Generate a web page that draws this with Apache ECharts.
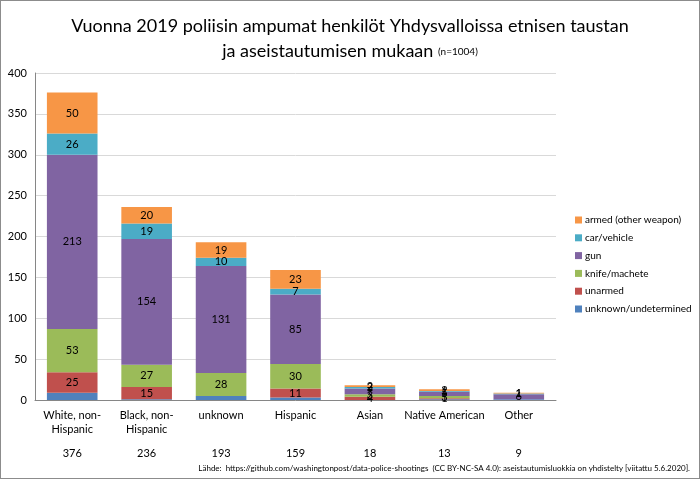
<!DOCTYPE html>
<html>
<head>
<meta charset="utf-8">
<script src="https://cdn.jsdelivr.net/npm/echarts@6/dist/echarts.min.js"></script>
<style>
  html, body { margin: 0; padding: 0; background: #fff; }
  #chart { width: 698px; height: 477px; border: 1px solid #8c8c8c; }
</style>
</head>
<body>
<div id="chart"></div>
<script>
// kategoriat (etninen tausta)
var categories = ['White, non-\nHispanic', 'Black, non-\nHispanic', 'unknown', 'Hispanic', 'Asian', 'Native American', 'Other'];
// aseistautuminen, alhaalta ylös
var unknownUndetermined = [9, 1, 5, 3, 0, 1, 1];
var unarmed = [25, 15, 0, 11, 4, 1, 0];
var knife = [53, 27, 28, 30, 3, 3, 0];
var gun = [213, 154, 131, 85, 7, 5, 6];
var carVehicle = [26, 19, 10, 7, 2, 1, 1];
var armedOther = [50, 20, 19, 23, 2, 2, 1];
var yTicks = [0, 50, 100, 150, 200, 250, 300, 350, 400];

var totals = categories.map(function (c, i) {
  return unknownUndetermined[i] + unarmed[i] + knife[i] + gun[i] + carVehicle[i] + armedOther[i];
});

var font = 'Lato';
function serie(name, data, color, showLabel) {
  return {
    name: name,
    type: 'bar',
    stack: 'total',
    barWidth: '68%',
    data: data,
    itemStyle: { color: color },
    label: {
      show: showLabel,
      position: 'inside',
      color: '#000',
      fontFamily: font,
      fontSize: 11,
      formatter: function (p) { return p.value > 0 ? p.value : ''; }
    }
  };
}

var myChart = echarts.init(document.getElementById('chart'));
var option = {
  animation: false,
  textStyle: { fontFamily: font },
  title: {
    text: 'Vuonna 2019 poliisin ampumat henkilöt Yhdysvalloissa etnisen taustan\nja aseistautumisen mukaan {s|(n=1004)}',
    left: 'center',
    top: 8,
    textStyle: {
      fontFamily: font, fontSize: 18, fontWeight: 'normal', color: '#000', lineHeight: 25,
      rich: { s: { fontSize: 10, fontFamily: font, color: '#000' } }
    }
  },
  legend: {
    orient: 'vertical',
    left: 569,
    top: 209,
    itemWidth: 7,
    itemHeight: 7,
    itemGap: 7.8,
    icon: 'rect',
    textStyle: { fontFamily: font, fontSize: 10, color: '#000', padding: [0, 0, 0, -2] },
    data: ['armed (other weapon)', 'car/vehicle', 'gun', 'knife/machete', 'unarmed', 'unknown/undetermined']
  },
  grid: { left: 34, right: 143, top: 72, bottom: 78 },
  xAxis: [{
    type: 'category',
    data: categories,
    axisLine: { lineStyle: { color: '#868686' } },
    axisTick: { show: false },
    axisLabel: { color: '#000', fontFamily: font, fontSize: 11, interval: 0, margin: 8, lineHeight: 14 }
  }, {
    type: 'category',
    position: 'bottom',
    offset: 40,
    data: totals.map(String),
    axisLine: { show: false },
    axisTick: { show: false },
    axisLabel: { color: '#000', fontFamily: font, fontSize: 11, interval: 0 }
  }],
  yAxis: {
    type: 'value',
    min: yTicks[0],
    max: yTicks[yTicks.length - 1],
    interval: 50,
    axisLine: { show: true, lineStyle: { color: '#868686' } },
    splitLine: { lineStyle: { color: '#d9d9d9' } },
    axisLabel: { color: '#000', fontFamily: font, fontSize: 11 }
  },
  series: [
    serie('unknown/undetermined', unknownUndetermined, '#4F81BD', false),
    serie('unarmed', unarmed, '#C0504D', true),
    serie('knife/machete', knife, '#9BBB59', true),
    serie('gun', gun, '#8064A2', true),
    serie('car/vehicle', carVehicle, '#4BACC6', true),
    serie('armed (other weapon)', armedOther, '#F79646', true)
  ],
  graphic: [{
    type: 'text',
    right: 9,
    bottom: 6,
    style: {
      text: 'Lähde:  https://github.com/washingtonpost/data-police-shootings  (CC BY-NC-SA 4.0): aseistautumisluokkia on yhdistelty [viitattu 5.6.2020].',
      fontFamily: font, fontSize: 8, fill: '#000'
    }
  }]
};
myChart.setOption(option);
</script>
</body>
</html>
